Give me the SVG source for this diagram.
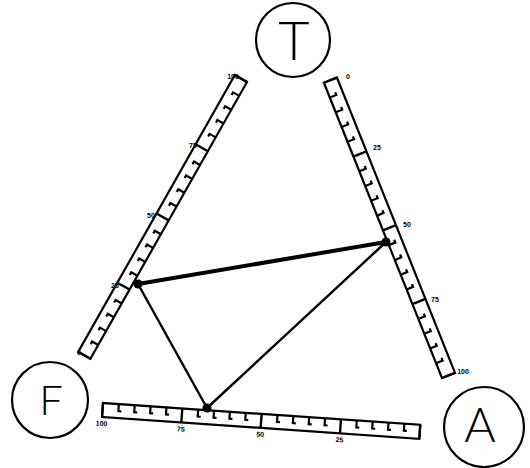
<svg xmlns="http://www.w3.org/2000/svg" width="530" height="468" viewBox="0 0 530 468">
<style>
.circ{fill:#fff;stroke:#000;stroke-width:2.2}
.letter{font-family:Lato,"Open Sans","Liberation Sans",Arial,sans-serif;font-weight:300;fill:#000;text-anchor:middle}
.band{fill:#fff;stroke:#000;stroke-width:2.2}
.tick{stroke:#000;stroke-width:2.2;fill:none}
.major{stroke:#000;stroke-width:2.4;fill:none}
.lbl{font-family:"Liberation Sans",Arial,sans-serif;font-size:7px;font-weight:bold;fill:#000;text-anchor:middle}
.edge{stroke:#000;fill:none;stroke-linecap:round}
</style>
<defs>
<g id="ruler">
<rect class="band" x="0" y="0" width="318" height="14"/>
<path class="major" d="M0,0V14M79.5,0V14M159,0V14M238.5,0V14M318,0V14"/>
<path class="tick" d="M15.9,0v7h3M31.8,0v7h3M47.7,0v7h3M63.6,0v7h3M95.4,0v7h3M111.3,0v7h3M127.2,0v7h3M143.1,0v7h3M174.9,0v7h3M190.8,0v7h3M206.7,0v7h3M222.6,0v7h3M254.4,0v7h3M270.3,0v7h3M286.2,0v7h3M302.1,0v7h3"/>
</g>
</defs>
<g id="rulers">
<g id="ruler-left" transform="translate(247,82) rotate(119.5)"><use href="#ruler"/></g>
<g id="ruler-right" transform="translate(442,378) rotate(-111.8)"><use href="#ruler"/></g>
<g id="ruler-bottom" transform="translate(103,403) rotate(3.94)"><use href="#ruler"/>
<text class="lbl" x="0" y="23">100</text>
<text class="lbl" x="79.5" y="23">75</text>
<text class="lbl" x="159" y="23">50</text>
<text class="lbl" x="238.5" y="23">25</text>
</g>
<g id="labels-left">
<text class="lbl" x="233" y="79">100</text>
<text class="lbl" x="193" y="148">75</text>
<text class="lbl" x="151" y="218">50</text>
<text class="lbl" x="115" y="288">25</text>
<text class="lbl" x="79" y="355">0</text>
</g>
<g id="labels-right">
<text class="lbl" x="348" y="79">0</text>
<text class="lbl" x="377" y="150">25</text>
<text class="lbl" x="407" y="227">50</text>
<text class="lbl" x="435" y="302">75</text>
<text class="lbl" x="463" y="374">100</text>
</g>
</g>
<g id="connectors">
<line class="edge" x1="138" y1="284" x2="386" y2="242" stroke-width="4"/>
<line class="edge" x1="138" y1="284" x2="207" y2="408" stroke-width="2.4"/>
<line class="edge" x1="207" y1="408" x2="386" y2="242" stroke-width="2.4"/>
<circle cx="138" cy="284" r="4.5"/>
<circle cx="386" cy="242" r="4.5"/>
<circle cx="207" cy="408" r="4.5"/>
</g>
<g id="node-T">
<circle class="circ" cx="293" cy="40" r="37"/>
<text class="letter" x="294" y="60" font-size="54">T</text>
</g>
<g id="node-F">
<circle class="circ" cx="50" cy="400" r="38"/>
<text class="letter" x="51" y="415" font-size="42">F</text>
</g>
<g id="node-A">
<circle class="circ" cx="484" cy="427" r="40"/>
<text class="letter" x="480" y="442" font-size="48">A</text>
</g>
</svg>
